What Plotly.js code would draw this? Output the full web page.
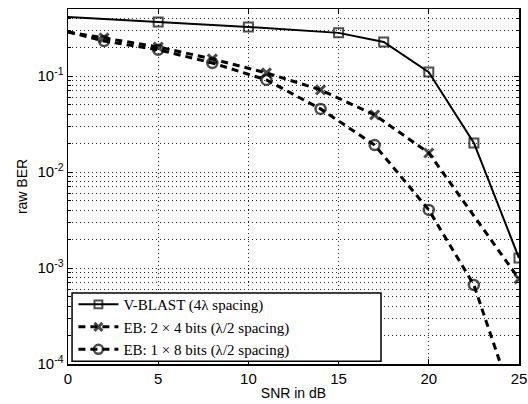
<!DOCTYPE html>
<html>
<head>
<meta charset="utf-8">
<script src="https://cdn.plot.ly/plotly-3.0.1.min.js"></script>
<style>html,body{margin:0;padding:0;background:#fff;}#chart{width:528px;height:404px;}</style>
</head>
<body>
<div id="chart"></div>
<script>
// V-BLAST (4λ spacing)
const vblastSNR = [0, 5, 10, 15, 17.5, 20, 22.5, 25];
const vblastBER = [0.413, 0.366, 0.325, 0.282, 0.227, 0.110, 0.0201, 0.00127];
// EB: 2 x 4 bits
const eb24SNR = [0, 2, 5, 8, 11, 14, 17, 20, 25];
const eb24BER = [0.288, 0.250, 0.201, 0.151, 0.108, 0.0718, 0.0394, 0.0158, 0.00077];
// EB: 1 x 8 bits
const eb18SNR = [0, 2, 5, 8, 11, 14, 17, 20, 22.5, 25];
const eb18BER = [0.288, 0.232, 0.188, 0.137, 0.0912, 0.0455, 0.0191, 0.00403, 0.000665, 0.000027];

const seriesNames = ['V-BLAST (4λ spacing)', 'EB: 2 × 4 bits (λ/2 spacing)', 'EB: 1 × 8 bits (λ/2 spacing)'];
const yTickVals = [1e-4, 1e-3, 1e-2, 1e-1];
const yTickText = ['10<sup>-4</sup>', '10<sup>-3</sup>', '10<sup>-2</sup>', '10<sup>-1</sup>'];
const xTickVals = [0, 5, 10, 15, 20, 25];

// hide marker on the first (x=0) point only
function sizes(n, s) { return Array.from({length: n}, (_, i) => i === 0 ? 0 : s); }

const traces = [
  {x: vblastSNR, y: vblastBER, name: seriesNames[0], mode: 'lines+markers',
   line: {color: '#000', width: 2},
   marker: {symbol: 'square-open', size: sizes(vblastSNR.length, 9), color: '#000', line: {width: 2, color: '#000'}},
   cliponaxis: true},
  {x: eb24SNR, y: eb24BER, name: seriesNames[1], mode: 'lines+markers',
   line: {color: '#000', width: 3, dash: '7px,5px'},
   marker: {symbol: 'x-thin-open', size: sizes(eb24SNR.length, 9), color: '#000', line: {width: 3, color: '#000'}},
   cliponaxis: true},
  {x: eb18SNR, y: eb18BER, name: seriesNames[2], mode: 'lines+markers',
   line: {color: '#000', width: 3, dash: '7px,5px'},
   marker: {symbol: 'circle-open', size: sizes(eb18SNR.length, 10), color: '#000', line: {width: 2.5, color: '#000'}},
   cliponaxis: true}
];

const gridDash = '1px,3px';
const layout = {
  width: 528, height: 404,
  margin: {l: 68, r: 9, t: 9, b: 40},
  paper_bgcolor: '#fff', plot_bgcolor: '#fff',
  font: {family: 'Liberation Sans, Arial, sans-serif', size: 14, color: '#000'},
  showlegend: true,
  legend: {
    x: 0.012, y: 0.104, xanchor: 'left', yanchor: 'middle',
    bgcolor: 'rgba(0,0,0,0)', borderwidth: 0,
    font: {family: 'Liberation Serif, Times New Roman, serif', size: 15, color: '#000'},
    tracegroupgap: 0, itemwidth: 40
  },
  // legend frame (wider than the text, as in the reference)
  shapes: [{
    type: 'rect', xref: 'paper', yref: 'paper', layer: 'above',
    x0: 0.009, x1: 0.694, y0: 0.008, y1: 0.2,
    line: {color: '#000', width: 1.5}, fillcolor: '#fff'
  }],
  xaxis: {
    type: 'linear', range: [0, 25],
    tickvals: xTickVals, ticks: 'inside', ticklen: 5, tickwidth: 1, tickcolor: '#000',
    showline: true, linecolor: '#000', linewidth: 1.5, mirror: 'allticks',
    showgrid: true, gridcolor: '#222', gridwidth: 1, griddash: gridDash,
    zeroline: false,
    tickfont: {family: 'Liberation Sans, Arial, sans-serif', size: 15},
    title: {text: 'SNR in dB', standoff: 2, font: {family: 'Liberation Sans, Arial, sans-serif', size: 14}}
  },
  yaxis: {
    type: 'log', range: [-4, Math.log10(0.5)],
    tickvals: yTickVals, ticktext: yTickText,
    ticks: 'inside', ticklen: 5, tickwidth: 1, tickcolor: '#000',
    showline: true, linecolor: '#000', linewidth: 1.5, mirror: 'allticks',
    showgrid: true, gridcolor: '#222', gridwidth: 1, griddash: gridDash,
    minor: {dtick: 'D1', ticks: 'inside', ticklen: 3, tickcolor: '#000', showgrid: true, gridcolor: '#222', gridwidth: 1, griddash: gridDash},
    zeroline: false,
    tickfont: {family: 'Liberation Sans, Arial, sans-serif', size: 15},
    title: {text: 'raw BER', standoff: 6, font: {family: 'Liberation Sans, Arial, sans-serif', size: 14}}
  }
};

Plotly.newPlot('chart', traces, layout, {displayModeBar: false, staticPlot: true});
</script>
</body>
</html>
